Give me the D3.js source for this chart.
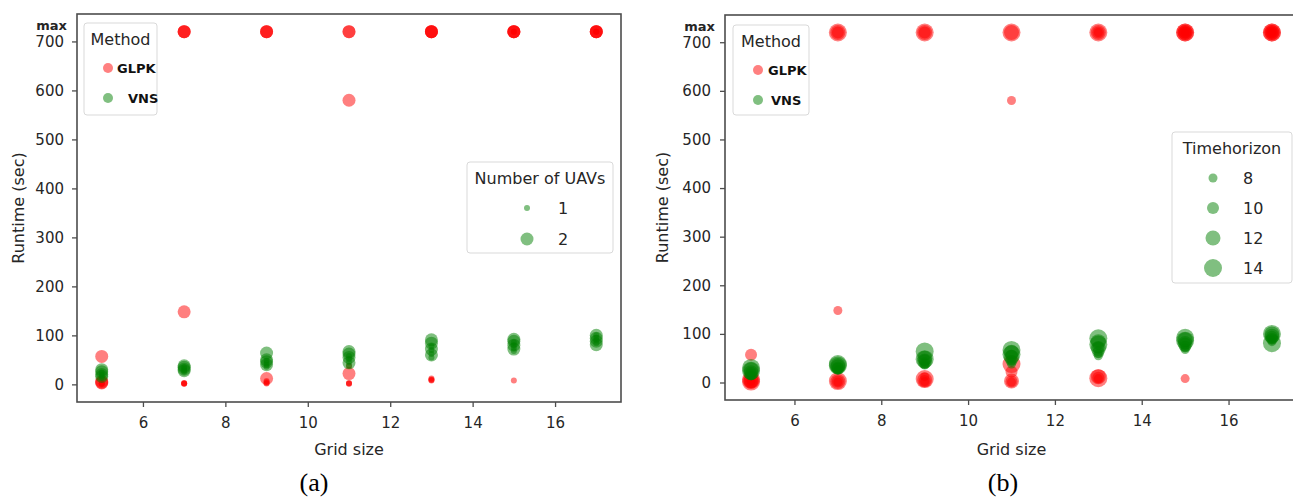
<!DOCTYPE html>
<html>
<head>
<meta charset="utf-8">
<script src="https://cdn.jsdelivr.net/npm/d3@7"></script>
<style>
body { margin: 0; background: #fff; }
text { font-family: "DejaVu Sans", sans-serif; fill: #262626; }
</style>
</head>
<body>
<div id="chart"></div>
<script>
var gridSizes = [5, 7, 9, 11, 13, 15, 17];
var timeHorizons = [8, 10, 12, 14];
var uavCounts = [1, 2];
var methods = ["GLPK", "VNS"];
var timeLimit = 720;

// runtime (sec): one row per grid size, one column per time horizon (8, 10, 12, 14)
var glpkUav1 = [[1, 1, 2, 2], [1, 2, 2, 3], [2, 3, 5, 7], [1, 2, 3, 38], [8, 10, 12, 9], [8, 720, 720, 720], [720, 720, 720, 720]];
var glpkUav2 = [[3, 57, 4, 6], [148, 720, 720, 720], [12, 720, 720, 720], [580, 22, 720, 720], [720, 720, 720, 720], [720, 720, 720, 720], [720, 720, 720, 720]];
var vnsUav1 = [[14, 17, 20, 24], [26, 29, 32, 35], [36, 40, 44, 48], [38, 45, 52, 58], [55, 62, 70, 78], [68, 74, 80, 86], [84, 90, 95, 100]];
var vnsUav2 = [[16, 20, 26, 30], [28, 31, 35, 38], [40, 46, 50, 64], [44, 55, 62, 67], [60, 72, 84, 91], [72, 80, 88, 92], [88, 94, 100, 81]];

var xTicks = [6, 8, 10, 12, 14, 16];
var yTicks = [0, 100, 200, 300, 400, 500, 600, 700];

var runtimes = { GLPK: { 1: glpkUav1, 2: glpkUav2 }, VNS: { 1: vnsUav1, 2: vnsUav2 } };
var points = [];
methods.forEach(function(m) {
    uavCounts.forEach(function(u) {
        gridSizes.forEach(function(g, i) {
            timeHorizons.forEach(function(h, j) {
                points.push({ method: m, uavs: u, horizon: h, grid: g, runtime: runtimes[m][u][i][j] });
            });
        });
    });
});

var color = d3.scaleOrdinal().domain(methods).range(["#ff0000", "#008000"]);
var legendColor = d3.scaleOrdinal().domain(methods).range(["#ff8080", "#80bf80"]);

var svg = d3.select("#chart").append("svg")
    .attr("width", 1293)
    .attr("height", 504);

function drawPanel(cfg) {
    var x = d3.scaleLinear().domain([4.4, 17.6]).range([cfg.left, cfg.right]);
    var y = d3.scaleLinear().domain([-36, 756]).range([cfg.bottom, cfg.top]);
    var g = svg.append("g");

    // scatter points
    g.selectAll(".pt")
        .data(points)
        .enter().append("circle")
        .attr("class", "pt")
        .attr("cx", function(d) { return x(d.grid); })
        .attr("cy", function(d) { return y(d.runtime); })
        .attr("r", function(d) { return cfg.size(d[cfg.sizeKey]); })
        .style("fill", function(d) { return color(d.method); })
        .style("opacity", 0.5);

    // frame
    g.append("rect")
        .attr("x", cfg.left)
        .attr("y", cfg.top)
        .attr("width", cfg.right - cfg.left)
        .attr("height", cfg.bottom - cfg.top)
        .style("fill", "none")
        .style("stroke", "#4d4d4d")
        .style("stroke-width", 1.6);

    var xAxis = g.append("g")
        .attr("transform", "translate(0," + cfg.bottom + ")")
        .call(d3.axisBottom(x).tickValues(xTicks).tickSize(5).tickPadding(10));
    var yAxis = g.append("g")
        .attr("transform", "translate(" + cfg.left + ",0)")
        .call(d3.axisLeft(y).tickValues(yTicks).tickSize(5).tickPadding(cfg.yPad));
    [xAxis, yAxis].forEach(function(a) {
        a.attr("font-family", null).attr("font-size", null);
        a.select(".domain").remove();
        a.selectAll("line").style("stroke", "#4d4d4d").style("stroke-width", 1.3);
        a.selectAll("text").style("font-size", "15px").style("fill", "#262626");
    });

    // "max" marks the time limit
    g.append("text")
        .attr("x", cfg.left - 10)
        .attr("y", y(timeLimit) - 2)
        .attr("text-anchor", "end")
        .style("font-size", "13px")
        .style("font-weight", "bold")
        .text("max");

    g.append("text")
        .attr("x", (cfg.left + cfg.right) / 2)
        .attr("y", 455)
        .attr("text-anchor", "middle")
        .style("font-size", "16px")
        .text("Grid size");

    g.append("text")
        .attr("transform", "translate(" + cfg.yLabelX + "," + ((cfg.top + cfg.bottom) / 2) + ") rotate(-90)")
        .attr("text-anchor", "middle")
        .attr("dy", "0.35em")
        .style("font-size", "16px")
        .text("Runtime (sec)");

    g.append("text")
        .attr("x", cfg.captionX)
        .attr("y", 491)
        .attr("text-anchor", "middle")
        .style("font-family", "'Liberation Serif', serif")
        .style("font-size", "26px")
        .style("fill", "#000")
        .text(cfg.caption);

    // method legend
    var ml = cfg.methodLegend;
    g.append("rect")
        .attr("x", ml.x).attr("y", ml.y).attr("width", ml.w).attr("height", ml.h)
        .attr("rx", 3)
        .style("fill", "#fff").style("stroke", "#d9d9d9");
    g.append("text")
        .attr("x", ml.x + ml.w / 2).attr("y", ml.y + 16).attr("dy", "0.35em")
        .attr("text-anchor", "middle")
        .style("font-size", "16px")
        .text("Method");
    var mItems = g.selectAll(".mitem")
        .data(methods)
        .enter().append("g")
        .attr("class", "mitem")
        .attr("transform", function(d, i) { return "translate(" + ml.markX + "," + (ml.y + 45 + i * 30) + ")"; });
    mItems.append("circle")
        .attr("r", 5)
        .style("fill", function(d) { return legendColor(d); });
    mItems.append("text")
        .attr("x", function(d, i) { return ml.textDx[i]; })
        .attr("dy", "0.35em")
        .style("font-size", "13px")
        .style("font-weight", "bold")
        .style("fill", "#111")
        .text(function(d) { return d; });

    // size legend
    var sl = cfg.sizeLegend;
    g.append("rect")
        .attr("x", sl.x).attr("y", sl.y).attr("width", sl.w).attr("height", sl.h)
        .attr("rx", 3)
        .style("fill", "#fff").style("stroke", "#d9d9d9");
    g.append("text")
        .attr("x", sl.x + sl.w / 2).attr("y", sl.y + 16).attr("dy", "0.35em")
        .attr("text-anchor", "middle")
        .style("font-size", "16px")
        .text(sl.title);
    var sItems = g.selectAll(".sitem")
        .data(sl.values)
        .enter().append("g")
        .attr("class", "sitem")
        .attr("transform", function(d, i) { return "translate(" + sl.markX + "," + (sl.y + 46 + i * sl.step) + ")"; });
    sItems.append("circle")
        .attr("r", function(d) { return cfg.size(d); })
        .style("fill", legendColor("VNS"));
    sItems.append("text")
        .attr("x", sl.textDx)
        .attr("dy", "0.35em")
        .attr("text-anchor", sl.anchor)
        .style("font-size", "16px")
        .text(function(d) { return d; });
}

drawPanel({
    left: 77, right: 621, top: 14, bottom: 402,
    sizeKey: "uavs",
    size: d3.scaleOrdinal().domain(uavCounts).range([3, 6.5]),
    yLabelX: 18, yPad: 8, captionX: 314, caption: "(a)",
    methodLegend: { x: 84, y: 23, w: 73, h: 92, markX: 108, textDx: [9, 20] },
    sizeLegend: { x: 467, y: 162, w: 146, h: 91, title: "Number of UAVs", values: uavCounts, markX: 527, step: 31, textDx: 36, anchor: "middle" }
});

drawPanel({
    left: 725, right: 1298, top: 15, bottom: 400,
    sizeKey: "horizon",
    size: d3.scaleOrdinal().domain(timeHorizons).range([4.5, 6, 7.5, 9]),
    yLabelX: 662, yPad: 9, captionX: 1003, caption: "(b)",
    methodLegend: { x: 733, y: 25, w: 76, h: 90, markX: 758, textDx: [10, 13] },
    sizeLegend: { x: 1172, y: 132, w: 120, h: 151, title: "Timehorizon", values: timeHorizons, markX: 1213, step: 30, textDx: 30, anchor: "start" }
});
</script>
</body>
</html>
